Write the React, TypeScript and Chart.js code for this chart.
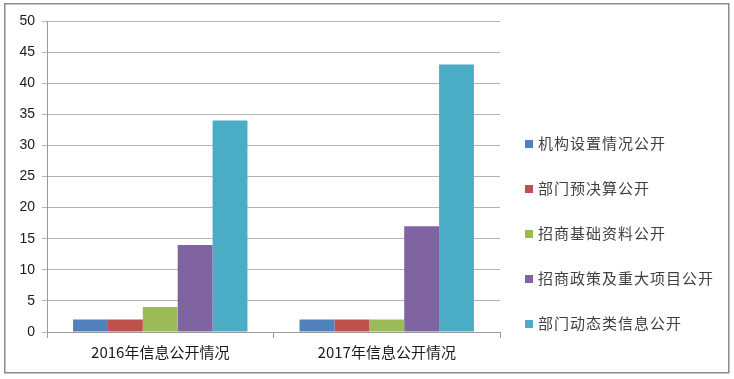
import React, { useEffect, useRef } from "react";
import { Chart, registerables } from "chart.js";

Chart.register(...registerables);

const categories = ["2016年信息公开情况", "2017年信息公开情况"];
const seriesNames = [
  "机构设置情况公开",
  "部门预决算公开",
  "招商基础资料公开",
  "招商政策及重大项目公开",
  "部门动态类信息公开",
];
const series1 = [2, 2];
const series2 = [2, 2];
const series3 = [4, 2];
const series4 = [14, 17];
const series5 = [34, 43];
const colors = ["#4F81BD", "#C0504D", "#9BBB59", "#8064A2", "#4BACC6"];

const W = 734;
const H = 379;

const framePlugin = {
  id: "frame",
  beforeDraw(chart: any) {
    const ctx = chart.ctx;
    ctx.save();
    ctx.fillStyle = "#ffffff";
    ctx.fillRect(0, 0, W, H);
    ctx.strokeStyle = "#8a8a8a";
    ctx.lineWidth = 1.5;
    ctx.strokeRect(4.75, 3.75, 724, 369);
    ctx.restore();
  },
};

const legendPlugin = {
  id: "customLegend",
  afterDraw(chart: any) {
    const ctx = chart.ctx;
    ctx.save();
    ctx.font = '15px "Noto Sans CJK SC"';
    ctx.textBaseline = "middle";
    ctx.textAlign = "left";
    try {
      (ctx as any).letterSpacing = "1px";
    } catch (e) {}
    chart.data.datasets.forEach((ds: any, i: number) => {
      const y = 143 + i * 45;
      ctx.fillStyle = ds.backgroundColor;
      ctx.fillRect(525, y - 3, 8, 8);
      ctx.fillStyle = "#404040";
      ctx.fillText(ds.label, 538, y);
    });
    ctx.restore();
  },
};

export default function App() {
  const ref = useRef<HTMLCanvasElement | null>(null);
  useEffect(() => {
    document.body.style.margin = "0";
    const values = [series1, series2, series3, series4, series5];
    const chart = new Chart(ref.current as HTMLCanvasElement, {
      type: "bar",
      data: {
        labels: categories,
        datasets: values.map((v, i) => ({
          label: seriesNames[i],
          data: v,
          backgroundColor: colors[i],
          borderWidth: 0,
          categoryPercentage: 0.77,
          barPercentage: 1,
        })),
      },
      options: {
        responsive: false,
        animation: false,
        devicePixelRatio: 1,
        layout: { padding: { left: 0, top: 21, right: 234, bottom: 0 } },
        plugins: {
          legend: { display: false },
          tooltip: { enabled: false },
        },
        scales: {
          x: {
            afterFit: (s: any) => {
              s.height = 47;
            },
            grid: {
              display: true,
              drawOnChartArea: false,
              drawTicks: true,
              tickLength: 6,
              color: "#9a9a9a",
              offset: true,
            },
            border: { display: true, color: "#9a9a9a" },
            ticks: {
              color: "#1a1a1a",
              font: { family: '"Noto Sans CJK SC"', size: 15 },
              padding: 5,
              maxRotation: 0,
            },
          },
          y: {
            min: 0,
            max: 50,
            afterFit: (s: any) => {
              s.width = 47;
            },
            ticks: {
              stepSize: 5,
              color: "#1a1a1a",
              font: { family: '"Liberation Sans"', size: 14 },
              padding: 7,
            },
            grid: {
              color: "#b4b4b4",
              tickLength: 5,
              lineWidth: 1,
            },
            border: { display: true, color: "#9a9a9a" },
          },
        },
      },
      plugins: [framePlugin, legendPlugin],
    });
    return () => chart.destroy();
  }, []);
  return (
    <div style={{ width: W, height: H }}>
      <canvas ref={ref} width={W} height={H} style={{ display: "block" }} />
    </div>
  );
}
